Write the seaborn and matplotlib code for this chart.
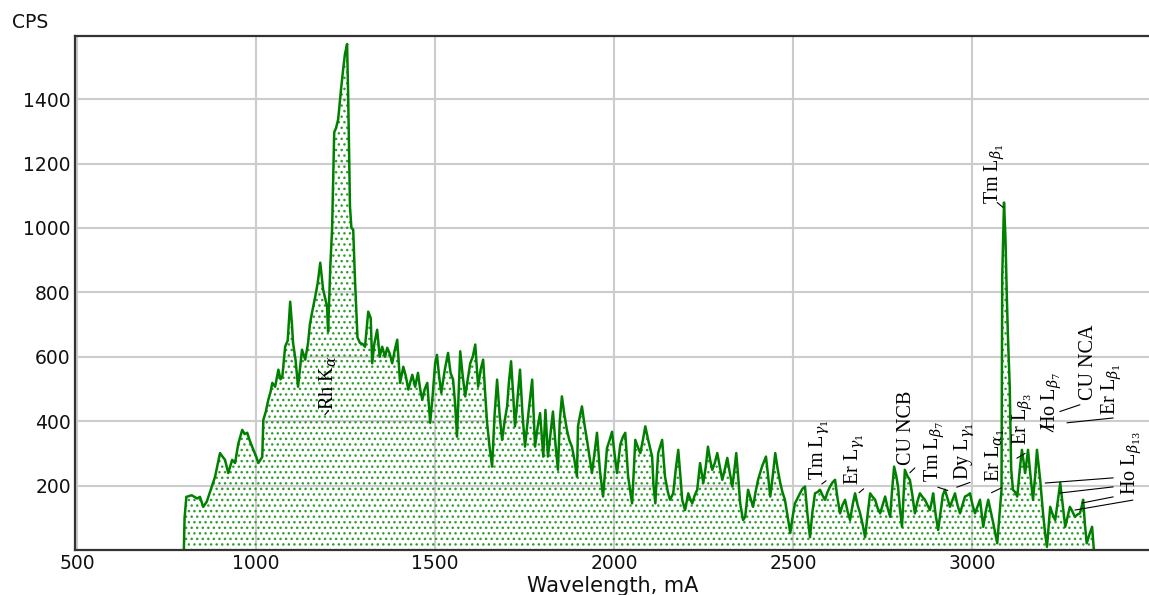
import matplotlib
matplotlib.use("Agg")
import matplotlib.pyplot as plt
import seaborn as sns
import numpy as np

# ---- data ----
wavelength = [798, 800, 805, 820, 835, 843, 852, 862, 871, 885, 899, 906, 913, 922, 933, 941, 950, 961, 968, 975,
              982, 989, 1000, 1006, 1017, 1020, 1027, 1034, 1040, 1045, 1053, 1062, 1068, 1073, 1081, 1088, 1095,
              1100, 1103, 1110, 1117, 1122, 1128, 1137, 1145, 1150, 1156, 1165, 1172, 1179, 1187, 1193, 1198, 1201,
              1207, 1212, 1218, 1223, 1229, 1237, 1243, 1248, 1254, 1257, 1262, 1266, 1271, 1276, 1283, 1290, 1297,
              1304, 1313, 1320, 1324, 1330, 1338, 1345, 1352, 1360, 1366, 1373, 1380, 1387, 1394, 1402, 1411, 1418,
              1425, 1436, 1444, 1452, 1458, 1464, 1471, 1478, 1486, 1493, 1500, 1505, 1511, 1517, 1527, 1536, 1543,
              1550, 1556, 1561, 1566, 1570, 1577, 1584, 1591, 1598, 1605, 1612, 1620, 1627, 1634, 1640, 1645, 1652,
              1659, 1666, 1673, 1680, 1687, 1694, 1701, 1706, 1712, 1718, 1723, 1730, 1737, 1744, 1751, 1761, 1771,
              1779, 1786, 1793, 1802, 1808, 1815, 1822, 1829, 1836, 1843, 1848, 1854, 1861, 1868, 1875, 1882, 1889,
              1896, 1899, 1905, 1910, 1917, 1924, 1931, 1938, 1945, 1952, 1960, 1969, 1975, 1980, 1987, 1994, 2001,
              2008, 2017, 2024, 2031, 2039, 2050, 2055, 2059, 2066, 2073, 2080, 2087, 2095, 2106, 2110, 2115, 2120,
              2123, 2134, 2142, 2150, 2156, 2165, 2172, 2179, 2185, 2190, 2198, 2207, 2212, 2218, 2225, 2232, 2240,
              2249, 2256, 2262, 2268, 2274, 2281, 2288, 2295, 2302, 2309, 2316, 2323, 2330, 2336, 2341, 2347, 2352,
              2360, 2366, 2374, 2381, 2388, 2395, 2402, 2413, 2424, 2430, 2436, 2443, 2450, 2457, 2464, 2470, 2477,
              2485, 2492, 2498, 2505, 2512, 2519, 2526, 2533, 2540, 2547, 2554, 2561, 2568, 2575, 2582, 2589, 2596,
              2603, 2610, 2617, 2624, 2631, 2638, 2645, 2652, 2659, 2666, 2673, 2680, 2687, 2694, 2701, 2708, 2715,
              2722, 2729, 2736, 2743, 2750, 2757, 2764, 2771, 2776, 2782, 2788, 2793, 2798, 2804, 2808, 2812, 2819,
              2826, 2833, 2840, 2847, 2854, 2861, 2868, 2875, 2882, 2887, 2891, 2898, 2905, 2912, 2918, 2924, 2931,
              2938, 2945, 2952, 2959, 2966, 2973, 2980, 2987, 2994, 3001, 3008, 3015, 3022, 3027, 3031, 3038, 3045,
              3052, 3059, 3065, 3070, 3077, 3082, 3084, 3089, 3093, 3097, 3100, 3105, 3109, 3114, 3120, 3126, 3133,
              3139, 3148, 3156, 3163, 3170, 3176, 3181, 3186, 3190, 3198, 3204, 3209, 3214, 3218, 3225, 3232, 3239,
              3246, 3253, 3260, 3266, 3273, 3280, 3287, 3294, 3301, 3306, 3310, 3315, 3320, 3328, 3335, 3340]
cps = [0, 100, 165, 170, 160, 165, 134, 150, 180, 227, 301, 290, 280, 239, 280, 270, 330, 373, 360, 364,
       340, 320, 290, 270, 289, 404, 430, 467, 490, 519, 507, 560, 530, 538, 632, 650, 771,
       700, 643, 590, 507, 560, 622, 591, 643, 700, 737, 787, 830, 892, 809, 780, 756, 678,
       880, 995, 1297, 1310, 1337, 1430, 1493, 1540, 1571, 1409, 1067, 1000, 995, 840, 660, 643, 640,
       631, 740, 720, 580, 640, 684, 600, 631, 600, 628, 610, 580, 620, 653, 519, 569, 540,
       498, 544, 507, 550, 500, 467, 500, 519, 395, 480, 580, 606, 540, 488, 560, 612, 550,
       529, 450, 352, 500, 617, 540, 477, 530, 580, 600, 638, 507, 560, 591, 480, 395, 320,
       259, 420, 529, 420, 342, 400, 446, 520, 586, 480, 384, 470, 560, 420, 321, 430, 529,
       321, 380, 425, 290, 435, 290, 360, 430, 330, 249, 400, 477, 420, 373, 340, 321, 280,
       228, 384, 420, 446, 390, 342, 290, 239, 300, 364, 249, 166, 250, 317, 340, 367, 300,
       239, 327, 350, 364, 228, 145, 250, 342, 320, 301, 340, 384, 342, 290, 200, 145, 250,
       301, 342, 228, 180, 156, 176, 250, 311, 230, 156, 124, 176, 160, 145, 170, 187, 270,
       208, 260, 321, 280, 249, 270, 301, 260, 218, 250, 286, 240, 197, 250, 301, 220, 145,
       93, 103, 187, 160, 134, 180, 218, 259, 290, 230, 166, 230, 301, 250, 208, 180, 156,
       100, 53, 100, 145, 160, 176, 190, 197, 110, 40, 120, 176, 180, 187, 170, 156, 180,
       197, 210, 218, 160, 114, 140, 156, 120, 93, 140, 176, 140, 114, 80, 40, 110, 176,
       165, 156, 130, 114, 140, 166, 130, 103, 180, 259, 230, 197, 130, 72, 160, 249, 230,
       218, 170, 114, 150, 176, 165, 156, 140, 124, 150, 176, 110, 62, 120, 170, 187, 160,
       134, 155, 176, 140, 114, 140, 166, 170, 176, 140, 114, 135, 156, 110, 72, 120, 156,
       120, 83, 50, 21, 120, 187, 849, 1079, 970, 780, 662, 507, 250, 187, 180, 166, 250,
       311, 239, 311, 230, 156, 230, 311, 260, 218, 114, 50, 10, 80, 134, 110, 93, 150,
       208, 140, 72, 100, 134, 120, 103, 110, 114, 135, 156, 80, 21, 50, 72, 0]

x_ticks = [500, 1000, 1500, 2000, 2500, 3000]
y_ticks = [200, 400, 600, 800, 1000, 1200, 1400]

peak_labels = ["Rh K$_{\\alpha}$", "Tm L$_{\\beta_1}$", "Tm L$_{\\gamma_1}$", "Er L$_{\\gamma_1}$", "CU NCB",
               "Tm L$_{\\beta_7}$", "Dy L$_{\\gamma_1}$", "Er L$_{\\alpha_1}$", "Er L$_{\\beta_3}$",
               "Ho L$_{\\beta_7}$", "CU NCA", "Er L$_{\\beta_1}$", "Ho L$_{\\beta_{13}}$"]
label_x = [1203, 3064, 2575, 2673, 2818, 2896, 2980, 3064, 3142, 3223, 3324, 3391, 3447]
label_y = [435, 1073, 218, 202, 264, 211, 218, 211, 327, 373, 467, 420, 171]

# ---- style ----
sns.set_theme(style="white")
plt.rcParams['font.family'] = ['DejaVu Sans']
plt.rcParams['mathtext.fontset'] = 'dejavuserif'

fig = plt.figure(figsize=(11.49, 5.95), dpi=100)
ax = fig.add_axes([0.0653, 0.0756, 0.9347, 0.8639])

green = "#008000"
ax.set_xlim(494, 3494)
ax.set_ylim(0, 1596)

ax.grid(True, color="#cccccc", linewidth=1.5, zorder=0)
ax.set_axisbelow(True)

ax.fill_between(wavelength, cps, 0, facecolor="none", edgecolor="#2e9e2e",
                hatch="...", linewidth=0, zorder=1)
sns.lineplot(x=wavelength, y=cps, color=green, linewidth=1.8, ax=ax, zorder=2,
             sort=False, estimator=None)

ax.set_xticks(x_ticks)
ax.set_yticks(y_ticks)
ax.tick_params(axis="both", length=0, labelsize=13.5, colors="#111111", pad=3)
for s in ["left", "bottom", "top"]:
    ax.spines[s].set_color("#333333")
    ax.spines[s].set_linewidth(1.6)
ax.spines["right"].set_visible(False)
ax.set_xlabel("")
ax.set_ylabel("")

fig.text(12 / 1149, 1 - 22 / 595, "CPS", fontsize=13.5, ha="left", va="center", color="#111111")
fig.text(613 / 1149, 1 - 586 / 595, "Wavelength, mA", fontsize=15, ha="center", va="center", color="#111111")

for t, lx, ly in zip(peak_labels, label_x, label_y):
    ax.text(lx, ly, t, rotation=90, ha="center", va="bottom", fontsize=14.5,
            family=["Liberation Serif", "DejaVu Serif"], color="black", zorder=4)

# leader lines
leaders = [((1192, 1202), (420, 433)), ((3070, 3086), (1079, 1064)),
           ((2580, 2592), (205, 215)), ((2684, 2697), (178, 190)),
           ((2826, 2840), (240, 255)), ((2904, 2932), (195, 185)),
           ((2957, 2994), (195, 210)), ((3054, 3082), (178, 193)),
           ((3125, 3148), (285, 300)), ((3190, 3226), (389, 367)),
           ((3245, 3301), (430, 451)), ((3265, 3394), (395, 410)),
           ((3204, 3394), (208, 224)), ((3245, 3394), (177, 196)),
           ((3307, 3394), (146, 165)), ((3287, 3449), (124, 155))]
for xs, ys in leaders:
    ax.plot(xs, ys, color="black", linewidth=0.8, zorder=3)

fig.savefig("out.png", dpi=100)
